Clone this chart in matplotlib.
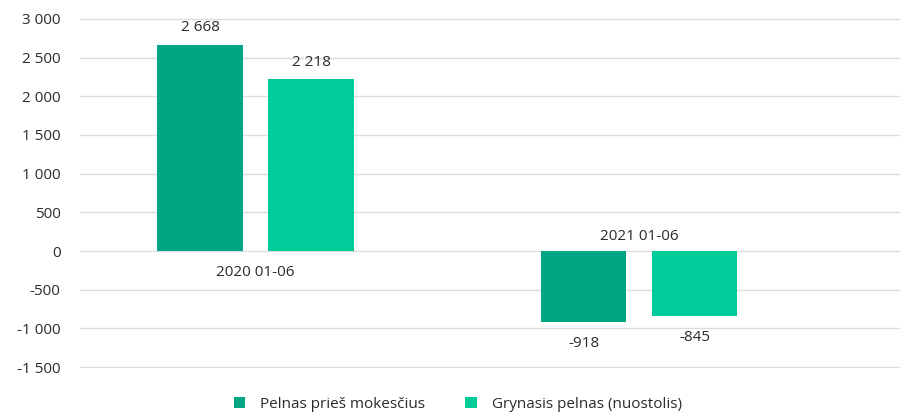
import matplotlib.pyplot as plt
import matplotlib.ticker as mticker
import numpy as np

periods = ['2020 01-06', '2021 01-06']
series_names = ['Pelnas prieš mokesčius', 'Grynasis pelnas (nuostolis)']
pretax = [2668, -918]
net = [2218, -845]
colors = ['#00a584', '#00cc99']

plt.rcParams['font.family'] = ['Open Sans', 'DejaVu Sans']
text_color = '#2b2b2b'
fs = 11

fig = plt.figure(figsize=(9.01, 4.13), dpi=100)
ax = fig.add_axes([80 / 901, 1 - 368 / 413, 820 / 901, 350 / 413])

x = np.arange(len(periods))
w = 0.224
off = 0.1447
b1 = ax.bar(x - off, pretax, w, color=colors[0], label=series_names[0], zorder=3)
b2 = ax.bar(x + off, net, w, color=colors[1], label=series_names[1], zorder=3)


def fmt(v):
    s = f'{abs(v):,}'.replace(',', ' ')
    return ('-' if v < 0 else '') + s


for bars, vals in ((b1, pretax), (b2, net)):
    for rect, v in zip(bars, vals):
        cx = rect.get_x() + rect.get_width() / 2
        if v >= 0:
            ax.annotate(fmt(v), (cx, v), xytext=(0, 7), textcoords='offset points',
                        ha='center', va='bottom', fontsize=fs, color=text_color)
        else:
            ax.annotate(fmt(v), (cx, v), xytext=(0, -10), textcoords='offset points',
                        ha='center', va='top', fontsize=fs, color=text_color)

# category labels sit next to the zero line
for i, p in enumerate(periods):
    if pretax[i] >= 0:
        ax.annotate(p, (x[i], 0), xytext=(0, -10), textcoords='offset points',
                    ha='center', va='top', fontsize=fs, color=text_color)
    else:
        ax.annotate(p, (x[i], 0), xytext=(0, 5), textcoords='offset points',
                    ha='center', va='bottom', fontsize=fs, color=text_color)

ax.set_ylim(-1512, 3012)
ax.set_xlim(-0.4576, 1.6806)
ax.set_yticks(np.arange(-1500, 3001, 500))
ax.yaxis.set_major_formatter(mticker.FuncFormatter(lambda v, _: fmt(int(v))))
ax.set_xticks([])
ax.tick_params(axis='y', length=0, pad=14, labelsize=fs, labelcolor=text_color)
ax.grid(axis='y', color='#dddddd', linewidth=1, zorder=0)
for s in ax.spines.values():
    s.set_visible(False)

fig.legend(handles=[b1, b2], loc='lower center', bbox_to_anchor=(0.508, -0.03),
           ncol=2, frameon=False, fontsize=fs, handlelength=0.75, handleheight=0.75,
           columnspacing=2.6, handletextpad=1.0, labelcolor=text_color)

fig.savefig('out.png', dpi=100)
